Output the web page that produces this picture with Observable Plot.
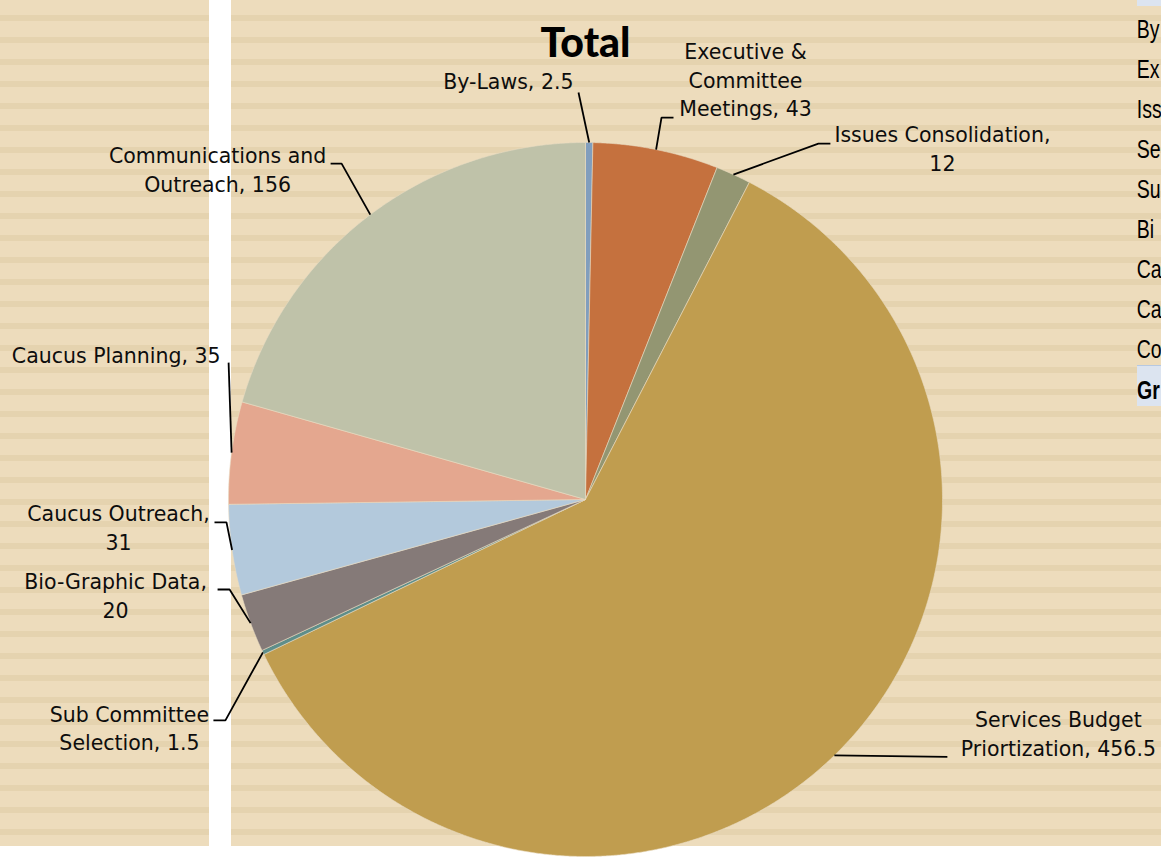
<!DOCTYPE html>
<html><head><meta charset="utf-8">
<script src="https://cdn.jsdelivr.net/npm/d3@7"></script>
<script src="https://cdn.jsdelivr.net/npm/@observablehq/plot@0.6"></script>
<style>
html,body{margin:0;padding:0;width:1161px;height:858px;overflow:hidden;background:#fff;}
#bg{position:absolute;left:0;top:0;width:1161px;height:846px;
 background:repeating-linear-gradient(to bottom,#EDDCBC 0px,#EDDCBC 15px,#E5D3AF 15px,#E5D3AF 21px,#EDDCBC 21px,#EDDCBC 22px);}
#band{position:absolute;left:209px;top:0;width:22px;height:858px;background:#fff;}
#table{position:absolute;left:1136px;top:0;width:25px;height:858px;overflow:hidden;font-family:"Liberation Sans",Arial,sans-serif;font-size:25px;color:#000;white-space:nowrap;}
#table .hdr{position:absolute;left:1px;top:0;width:30px;height:6px;background:#DCE4F0;}
#table .row{position:absolute;left:0;width:30px;box-sizing:border-box;height:41px;padding-top:9px;line-height:30px;}
#table .row span{display:inline-block;transform:scaleX(0.78);transform-origin:0 50%;padding-left:1px;}
#table .row.total{background:#DCE4F0;border-top:1px solid #B7C9E2;font-weight:bold;left:1px;}
#table .row.total span{padding-left:0;}
#chart{position:absolute;left:0;top:0;}
</style></head>
<body>
<div id="bg"></div>
<div id="band"></div>
<div id="table"></div>
<div id="chart"></div>
<script>
// ---- data ----
const categories = ["By-Laws","Executive & Committee Meetings","Issues Consolidation","Services Budget Priortization","Sub Committee Selection","Bio-Graphic Data","Caucus Outreach","Caucus Planning","Communications and Outreach"];
const values = [2.5, 43, 12, 456.5, 1.5, 20, 31, 35, 156];
const sliceColors = ["#819EBD","#C5713E","#939672","#C09D4F","#5E8E8A","#857A78","#B3C9DC","#E4A78F","#BFC2A9"];
const totalLabel = "Grand Total";
const chartTitle = "Total";
// characters of each table row that are visible at the page's right edge
const tableVisibleChars = [2, 2, 3, 2, 2, 2, 2, 2, 2, 2];

// ---- layout (label placement, px offsets from the slice's outer mid-point) ----
const wrapAfter = [[], [1,2], [1], [1], [1], [1], [1], [], [1]];
const labelAnchor = ["end","middle","middle","middle","middle","middle","middle","end","middle"];
const labelOffset = [[-15.7,-60],[89.4,-68],[209,-24.6],[224,-20.4],[-133.5,77.5],[-135,-26],[-113.6,-20.6],[-11,-96],[-152.7,-43]];
const leaderOffset = [
  [[-10.7,-50]],
  [[5.4,-32],[17.4,-32]],
  [[85,-31],[97,-31]],
  [[113,1.5]],
  [[-37.5,68],[-49.5,68]],
  [[-21,-33.6],[-33,-33.6]],
  [[-5.6,-27.6],[-17.6,-27.6]],
  [[-3,-90]],
  [[-28.7,-51],[-39.7,-51]]
];

const W = 1161, H = 858, CX = 585, CY = 499, R = 357;

// ---- table (spreadsheet area at right, clipped by the page edge) ----
const table = document.getElementById("table");
const hdr = document.createElement("div"); hdr.className = "hdr"; table.appendChild(hdr);
[...categories, totalLabel].forEach((name, k) => {
  const d = document.createElement("div");
  d.className = "row" + (k === categories.length ? " total" : "");
  d.style.top = (5 + 40 * k) + "px";
  const s = document.createElement("span");
  s.textContent = name.slice(0, tableVisibleChars[k]);
  d.appendChild(s);
  table.appendChild(d);
});

// ---- geometry from data ----
const arcs = d3.pie().sort(null).value(d => d)(values);
const slicePts = arcs.flatMap((a, i) => {
  const n = Math.max(2, Math.ceil((a.endAngle - a.startAngle) / (Math.PI / 720)));
  const pts = [{k: i, x: 0, y: 0}];
  for (let j = 0; j <= n; j++) {
    const t = a.startAngle + (a.endAngle - a.startAngle) * j / n;
    pts.push({k: i, x: Math.sin(t), y: Math.cos(t)});
  }
  pts.push({k: i, x: 0, y: 0});
  return pts;
});
const edge = arcs.map(a => {
  const m = (a.startAngle + a.endAngle) / 2;
  return [Math.sin(m), Math.cos(m)];
});
const leaderPts = edge.flatMap(([ex, ey], i) => [
  {k: i, x: ex, y: ey},
  ...leaderOffset[i].map(([ox, oy]) => ({k: i, x: ex + ox / R, y: ey - oy / R}))
]);
const labels = categories.map((c, i) => {
  const words = `${c}, ${values[i]}`.split(" ");
  const text = words.map((w, j) => w + (j < words.length - 1 ? (wrapAfter[i].includes(j) ? "\n" : " ") : "")).join("");
  return {text, anchor: labelAnchor[i], x: edge[i][0] + labelOffset[i][0] / R, y: edge[i][1] - labelOffset[i][1] / R};
});

const textStyle = {fontFamily: "'DejaVu Sans', sans-serif", fontSize: 20.5, fill: "#0d0d0d", lineHeight: 1.4, dy: -3};

const chart = Plot.plot({
  width: W, height: H, margin: 0,
  x: {domain: [-CX / R, (W - CX) / R], range: [0, W], axis: null},
  y: {domain: [CY / R, -(H - CY) / R], range: [0, H], axis: null},
  style: {background: "transparent", overflow: "visible"},
  marks: [
    Plot.line(slicePts, {x: "x", y: "y", z: "k", fill: d => sliceColors[d.k], stroke: "#E9DBC2", strokeWidth: 0.6, curve: "linear", strokeLinejoin: "miter"}),
    Plot.line(leaderPts, {x: "x", y: "y", z: "k", stroke: "#000", strokeWidth: 1.8, curve: "linear", strokeLinecap: "butt", strokeLinejoin: "miter"}),
    Plot.text(labels.filter(d => d.anchor === "middle"), {x: "x", y: "y", text: "text", textAnchor: "middle", ...textStyle}),
    Plot.text(labels.filter(d => d.anchor === "end"), {x: "x", y: "y", text: "text", textAnchor: "end", ...textStyle}),
    Plot.text([chartTitle], {frameAnchor: "top", dx: 4.5, dy: 27, fontFamily: "Lato, sans-serif", fontWeight: "900", fontSize: 41, fill: "#000"})
  ]
});
document.getElementById("chart").appendChild(chart);
</script>
</body></html>
